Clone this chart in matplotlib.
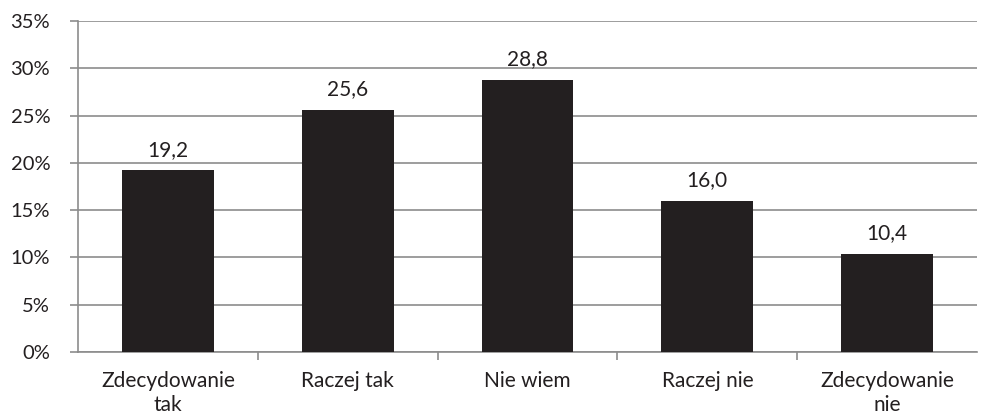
import numpy as np
import matplotlib.pyplot as plt

categories = ['Zdecydowanie\ntak', 'Raczej tak', 'Nie wiem', 'Raczej nie', 'Zdecydowanie\nnie']
values = [19.2, 25.6, 28.8, 16.0, 10.4]
yticks = [0, 5, 10, 15, 20, 25, 30, 35]

plt.rcParams['font.family'] = ['Lato', 'DejaVu Sans']

fig = plt.figure(figsize=(9.85, 4.17), dpi=100)
ax = fig.add_axes([0.0792, 0.156, 0.9127, 0.7936])

grid_col = '#8c8c8c'
txt_col = '#231f20'
fs = 15
x = np.arange(len(categories))
bars = ax.bar(x, values, width=0.51, color='#231f20', zorder=3)

for xi, v in zip(x, values):
    ax.text(xi, v + 1.1, f'{v:.1f}'.replace('.', ','), ha='center', va='bottom',
            fontsize=fs, color=txt_col)

ax.set_xlim(-0.5, len(categories) - 0.5)
ax.set_ylim(0, 35)
ax.set_yticks(yticks)
ax.set_yticklabels([f'{t}%' for t in yticks], fontsize=14.5, color=txt_col)
ax.yaxis.grid(True, color=grid_col, linewidth=1.2, zorder=0)
ax.tick_params(axis='y', length=6, color=grid_col, width=1.2, pad=14)

ax.set_xticks(x)
ax.set_xticklabels(categories, fontsize=fs, color=txt_col, linespacing=1.22)
ax.tick_params(axis='x', length=0, pad=14)
ax.set_xticks(np.arange(0.5, len(categories) - 0.5, 1), minor=True)
ax.tick_params(axis='x', which='minor', length=6, color=grid_col, width=1.2)

for side in ['top', 'right']:
    ax.spines[side].set_visible(False)
for side in ['left', 'bottom']:
    ax.spines[side].set_color(grid_col)
    ax.spines[side].set_linewidth(1.2)

fig.savefig('out.png', dpi=100)
